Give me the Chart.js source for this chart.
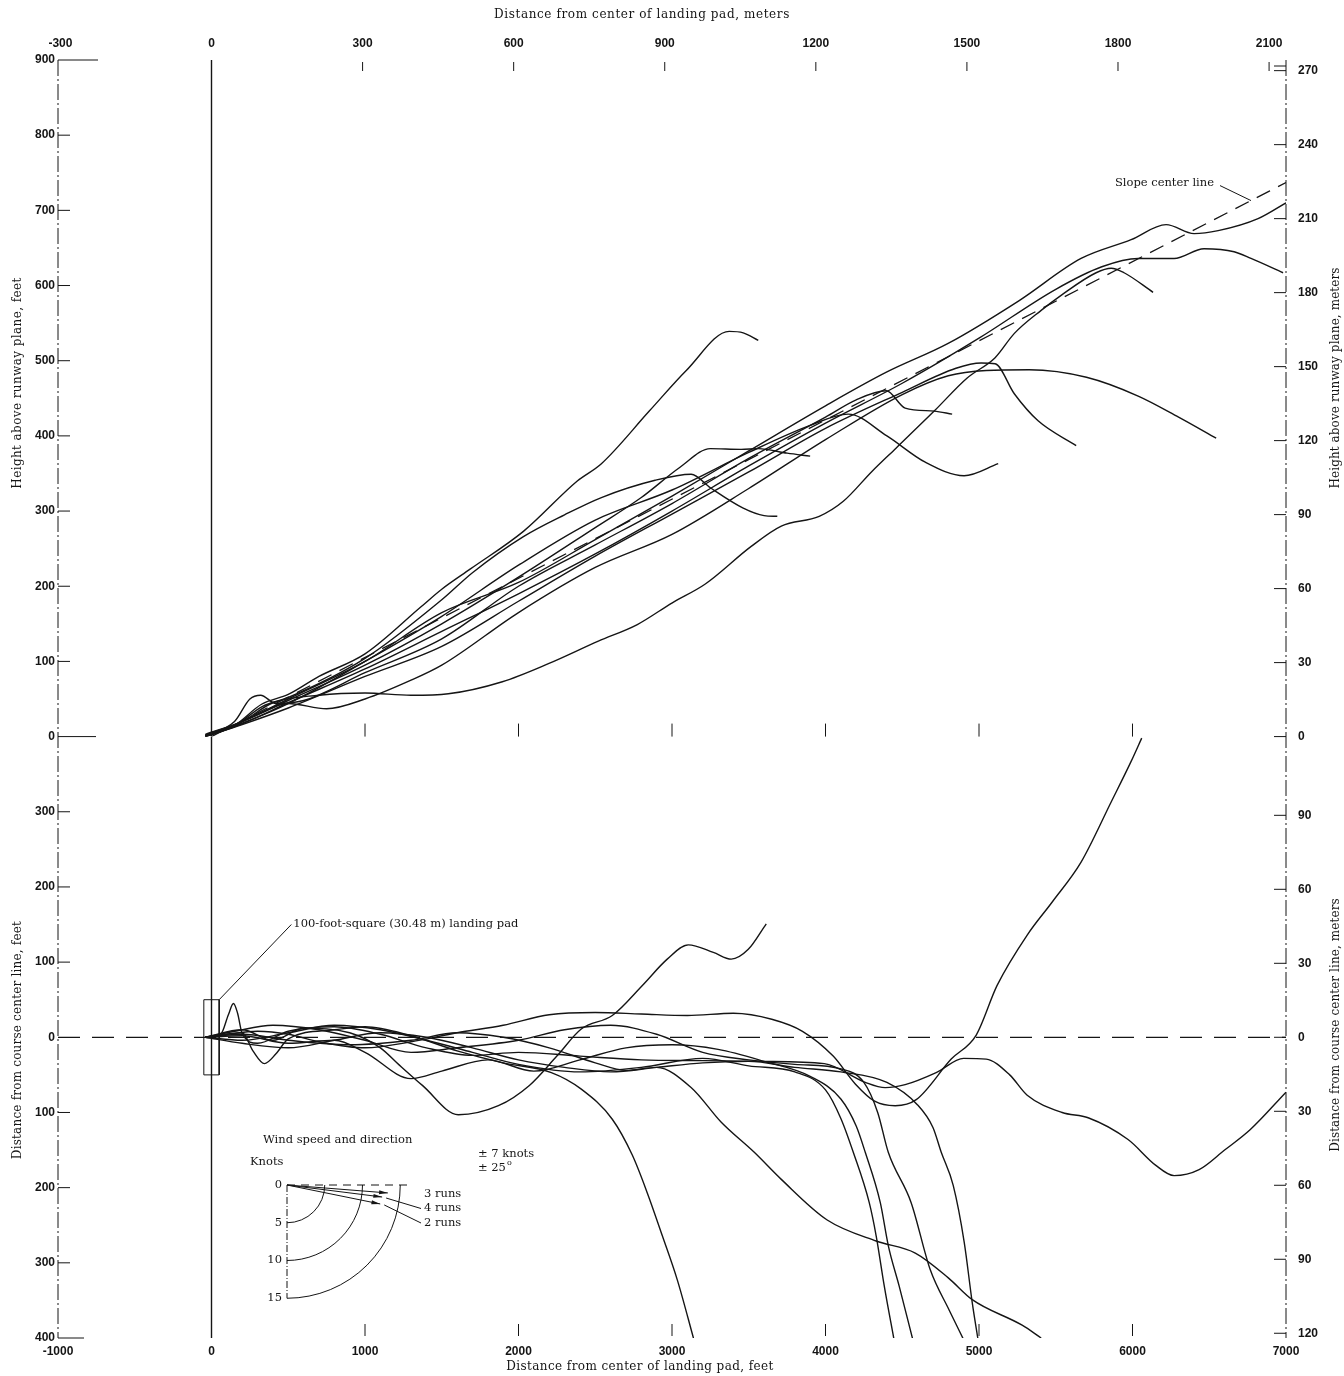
<!DOCTYPE html>
<html>
<head>
<meta charset="utf-8">
<title>Approach paths to landing pad</title>
<script src="https://cdn.jsdelivr.net/npm/chart.js@4.4.0/dist/chart.umd.min.js"></script>
<style>
  html, body { margin: 0; padding: 0; background: #fff; }
  #wrap { position: relative; width: 1344px; height: 1376px; }
</style>
</head>
<body>
<div id="wrap"><canvas id="approachChart"></canvas></div>
<script>
// ---- recorded runs: [distance from pad center ft, height above runway ft] ----
const height1 = [[-40,2],[150,15],[326,43],[500,56],[700,80],[1000,110],[1367,173],[1500,196],[1687,223],[2032,273],[2383,340],[2540,363],[2852,433],[3093,487],[3373,539],[3464,537],[3562,527]];
const height2 = [[-40,0],[150,14],[330,40],[500,52],[1000,104],[1500,182],[1700,218],[2032,266],[2300,295],[2540,318],[2890,341],[3125,349],[3250,331],[3464,304],[3600,294],[3686,293]];
const height3 = [[-40,3],[200,20],[500,48],[1000,95],[1500,150],[2000,212],[2500,278],[2800,318],[3050,358],[3250,383],[3450,382],[3562,383],[3750,377],[3900,373]];
const height4 = [[-40,1],[200,18],[500,44],[1000,100],[1500,160],[2000,228],[2500,288],[3000,328],[3500,378],[3900,414],[4148,429],[4400,400],[4650,365],[4903,347],[5125,363]];
const height5 = [[-40,0],[200,16],[500,38],[1000,80],[1500,120],[2000,180],[2500,240],[3000,296],[3500,352],[4000,410],[4500,458],[4850,490],[5014,497],[5105,496],[5230,456],[5385,420],[5633,387]];
const height6 = [[-40,0],[150,15],[300,30],[500,44],[750,37],[1000,50],[1300,75],[1500,95],[2000,165],[2500,225],[3000,269],[3500,330],[4000,395],[4500,455],[4800,480],[5047,487],[5327,488],[5700,478],[6037,453],[6300,425],[6545,397]];
const height7 = [[-40,0],[200,20],[400,45],[700,55],[1000,58],[1300,55],[1543,57],[1895,73],[2195,97],[2520,127],[2774,149],[3002,178],[3217,203],[3516,253],[3712,280],[3959,293],[4116,313],[4304,353],[4461,384],[4708,433],[4923,477],[5105,504],[5229,536],[5405,567],[5535,587],[5763,617],[5861,623],[5945,617],[6134,591]];
const height8 = [[-40,2],[200,20],[500,50],[1000,100],[1500,165],[2000,205],[2500,262],[3000,320],[3500,380],[4000,440],[4400,485],[4799,523],[5262,580],[5665,636],[5991,661],[6219,681],[6401,669],[6558,673],[6818,689],[7000,710]];
const height9 = [[-40,0],[200,17],[500,45],[1000,90],[1500,140],[2000,190],[2500,243],[3000,300],[3500,360],[4000,417],[4500,470],[5000,530],[5500,595],[5800,625],[6037,636],[6271,636],[6466,649],[6662,645],[6772,636],[6981,617]];
const height10 = [[-40,1],[150,20],[250,50],[320,55],[420,44],[600,48],[1000,85],[1500,130],[2000,200],[2500,255],[3000,310],[3500,370],[4000,425],[4200,448],[4396,460],[4519,437],[4708,433],[4825,429]];

// ---- recorded runs: [distance from pad center ft, offset from course center line ft] ----
const offset1 = [[-40,0],[100,4],[300,8],[500,4],[700,-6],[1000,-14],[1300,-6],[1600,6],[1900,16],[2200,30],[2500,33],[2800,31],[3100,29],[3400,32],[3650,24],[3850,8],[4050,-25],[4194,-62],[4320,-85],[4454,-91],[4591,-83],[4819,-29],[4982,3],[5118,69],[5314,136],[5477,180],[5665,233],[5861,313],[5991,367],[6060,398]];
const offset2 = [[-40,0],[60,4],[110,30],[143,45],[170,32],[200,5],[300,-8],[500,8],[800,14],[1100,4],[1400,-14],[1700,-24],[2000,-20],[2400,-25],[2800,-30],[3200,-31],[3600,-32],[3992,-35],[4259,-60],[4389,-67],[4519,-63],[4721,-47],[4900,-28],[5047,-29],[5200,-50],[5314,-77],[5542,-100],[5711,-107],[5971,-136],[6150,-170],[6271,-184],[6434,-176],[6600,-150],[6766,-123],[7000,-73]];
const offset3 = [[-40,0],[200,10],[400,-4],[600,12],[900,6],[1100,-14],[1224,-37],[1374,-64],[1608,-103],[1869,-91],[2071,-64],[2250,-25],[2409,11],[2611,29],[2807,69],[2969,104],[3106,123],[3269,113],[3386,104],[3497,117],[3614,151]];
const offset4 = [[-40,0],[200,6],[270,-18],[345,-35],[420,-22],[500,-2],[800,10],[1000,14],[1300,2],[1600,-18],[1900,-34],[2214,-47],[2409,-69],[2611,-109],[2742,-157],[2839,-207],[2937,-264],[3035,-323],[3145,-404]];
const offset5 = [[-40,0],[200,-4],[500,6],[800,16],[1100,10],[1400,-4],[1700,-20],[2000,-36],[2400,-46],[2800,-40],[3200,-28],[3500,-38],[3800,-46],[4000,-70],[4100,-108],[4181,-153],[4285,-220],[4330,-264],[4383,-331],[4448,-404]];
const offset6 = [[-40,0],[200,2],[500,-8],[800,-4],[1000,-20],[1300,-55],[1500,-45],[1800,-30],[2100,-45],[2400,-30],[2700,-14],[3000,-10],[3300,-16],[3600,-32],[3900,-52],[4100,-82],[4200,-118],[4259,-153],[4357,-220],[4409,-277],[4480,-331],[4571,-404]];
const offset7 = [[-40,0],[150,8],[400,16],[700,10],[1000,-4],[1300,-20],[1600,-14],[2000,-4],[2300,10],[2600,16],[2900,4],[3200,-20],[3500,-30],[3800,-36],[4100,-42],[4250,-60],[4340,-100],[4409,-153],[4558,-220],[4682,-309],[4806,-363],[4904,-404]];
const offset8 = [[-40,0],[200,-8],[500,-14],[800,-4],[1100,6],[1400,0],[1700,-14],[2000,-30],[2300,-40],[2600,-46],[2900,-40],[3200,-34],[3500,-32],[3800,-40],[4100,-46],[4400,-60],[4600,-90],[4700,-120],[4754,-153],[4832,-197],[4904,-273],[4956,-353],[4995,-404]];
const offset9 = [[-40,0],[200,4],[500,-4],[900,-10],[1300,-4],[1600,6],[1900,0],[2200,-14],[2500,-34],[2700,-44],[2900,-40],[3126,-67],[3321,-113],[3536,-153],[3712,-189],[4011,-243],[4330,-271],[4585,-287],[4800,-320],[4956,-349],[5281,-383],[5405,-400]];

// reference lines and pad
const slopeCenterLine = [[0,0],[7000,737]];
const courseCenterLine = [[-1000,0],[7000,0]];
const padCenterHeight = [[0,0],[0,900]];
const padCenterOffset = [[0,-400],[0,400]];
const padOutline = [[-50,50],[50,50],[50,-50],[-50,-50],[-50,50]];

// axis ticks
const FT_TO_M = 0.3048;
const feetTicks = [-1000,0,1000,2000,3000,4000,5000,6000,7000];
const meterTicks = [-300,0,300,600,900,1200,1500,1800,2100];
const heightFeetTicks = [0,100,200,300,400,500,600,700,800,900];
const heightMeterTicks = [0,30,60,90,120,150,180,210,240,270];
const offsetFeetTicks = [-400,-300,-200,-100,0,100,200,300];
const offsetMeterTicks = [-120,-90,-60,-30,0,30,60,90];
const markTicksFeet = [1000,2000,3000,4000,5000,6000];
const markTicksMeters = [300,600,900,1200,1500,1800,2100];

// wind inset
const windRuns = ['3 runs', '4 runs', '2 runs'];
const windSpeed = [13.4, 12.7, 12.6];   // knots
const windAngle = [4.5, 7.2, 11.5];     // degrees off the approach line
const windRings = [0, 5, 10, 15];

const heightRuns = [height1,height2,height3,height4,height5,height6,height7,height8,height9,height10];
const offsetRuns = [offset1,offset2,offset3,offset4,offset5,offset6,offset7,offset8,offset9];

const INK = '#151515';
const SERIF = '"DejaVu Serif", "Liberation Serif", serif';
const SANS = '"Liberation Sans", Arial, sans-serif';

function series(points, yAxisID, extra) {
  return Object.assign({
    data: points.map(([x, y]) => ({ x, y })),
    xAxisID: 'x', yAxisID,
    borderColor: INK, borderWidth: 1.4,
    pointRadius: 0, showLine: true, fill: false,
    tension: 0.4, cubicInterpolationMode: 'monotone'
  }, extra || {});
}

const datasets = [];
heightRuns.forEach(r => datasets.push(series(r, 'yH')));
offsetRuns.forEach(r => datasets.push(series(r, 'yL')));
datasets.push(series(slopeCenterLine, 'yH', { tension: 0, borderDash: [15, 9], borderWidth: 1.3 }));
datasets.push(series(courseCenterLine, 'yL', { tension: 0, borderDash: [22, 12], borderWidth: 1.3 }));
datasets.push(series(padCenterHeight, 'yH', { tension: 0, borderWidth: 1.4 }));
datasets.push(series(padCenterOffset, 'yL', { tension: 0, borderWidth: 1.4 }));
datasets.push(series(padOutline, 'yL', { tension: 0, borderWidth: 1, cubicInterpolationMode: 'default' }));

const fixedTicks = values => scale => { scale.ticks = values.map(value => ({ value })); };
const tickFont = { family: SANS, size: 12, weight: 'bold' };
const plainLabel = v => String(Math.round(v));
const absLabel = v => String(Math.abs(Math.round(v)));
const noGrid = { display: false, drawTicks: false };

function text(ctx, str, x, y, font, align, rotate, spacing) {
  ctx.save();
  ctx.font = font;
  ctx.textAlign = align || 'left';
  ctx.textBaseline = 'middle';
  ctx.fillStyle = INK;
  if (spacing) ctx.letterSpacing = spacing;
  if (rotate) {
    ctx.translate(x, y);
    ctx.rotate(rotate);
    ctx.fillText(str, 0, 0);
  } else {
    ctx.fillText(str, x, y);
  }
  ctx.restore();
}

function seg(ctx, x1, y1, x2, y2) {
  ctx.beginPath();
  ctx.moveTo(x1, y1);
  ctx.lineTo(x2, y2);
  ctx.stroke();
}

const paperMarks = {
  id: 'paperMarks',
  beforeDraw(chart) {
    const { ctx, width, height } = chart;
    ctx.save();
    ctx.fillStyle = '#fff';
    ctx.fillRect(0, 0, width, height);
    ctx.restore();
  },
  afterDatasetsDraw(chart) {
    const { ctx, chartArea: a, scales: s } = chart;
    const L = a.left, R = a.right;
    const y0 = s.yH.getPixelForValue(0);
    ctx.save();
    ctx.strokeStyle = INK;
    ctx.lineWidth = 1;

    // frame: dash-dot side axes, short corner marks
    ctx.setLineDash([16, 3, 2, 3]);
    seg(ctx, L, a.top, L, a.bottom);
    seg(ctx, R, a.top, R, a.bottom);
    ctx.setLineDash([]);
    seg(ctx, L, a.top, L + 40, a.top);
    seg(ctx, L, y0, L + 38, y0);
    seg(ctx, L, a.bottom, L + 26, a.bottom);
    seg(ctx, R - 12, a.top + 6, R, a.top + 6);

    // inward tick marks on the side axes
    heightFeetTicks.slice(1, -1).forEach(v => { const y = s.yH.getPixelForValue(v); seg(ctx, L, y, L + 12, y); });
    offsetFeetTicks.slice(1).forEach(v => { if (v === 0) return; const y = s.yL.getPixelForValue(v); seg(ctx, L, y, L + 12, y); });
    heightMeterTicks.forEach(v => { const y = s.ymH.getPixelForValue(v); seg(ctx, R - 12, y, R, y); });
    offsetMeterTicks.forEach(v => { const y = s.ymL.getPixelForValue(v); seg(ctx, R - 12, y, R, y); });

    // short vertical marks along the top, middle and bottom edges
    markTicksMeters.forEach(v => { const x = s.xm.getPixelForValue(v); seg(ctx, x, a.top + 2, x, a.top + 11); });
    markTicksFeet.forEach(v => { const x = s.x.getPixelForValue(v); seg(ctx, x, y0 - 13, x, y0); });
    markTicksFeet.forEach(v => { const x = s.x.getPixelForValue(v); seg(ctx, x, a.bottom - 14, x, a.bottom - 2); });

    // axis titles
    const titleFont = '12px ' + SERIF;
    text(ctx, 'Distance from center of landing pad, meters', 642, 15, titleFont, 'center', 0, '0.6px');
    text(ctx, 'Distance from center of landing pad, feet', 640, 1367, titleFont, 'center', 0, '0.4px');
    text(ctx, 'Height above runway plane, feet', 18, 383, titleFont, 'center', -Math.PI / 2, '0.4px');
    text(ctx, 'Distance from course center line, feet', 18, 1040, titleFont, 'center', -Math.PI / 2, '0.2px');
    text(ctx, 'Height above runway plane, meters', 1336, 378, titleFont, 'center', -Math.PI / 2, '0.1px');
    text(ctx, 'Distance from course center line, meters', 1336, 1025, titleFont, 'center', -Math.PI / 2, '0.1px');

    // slope center line callout
    const sx = s.x.getPixelForValue(6772), sy = s.yH.getPixelForValue(713);
    seg(ctx, sx, sy, sx - 31, sy - 15);
    text(ctx, 'Slope center line', sx - 37, sy - 18, '11.5px ' + SERIF, 'right');

    // landing pad callout
    const px = s.x.getPixelForValue(50), py = s.yL.getPixelForValue(50);
    const qx = s.x.getPixelForValue(520), qy = s.yL.getPixelForValue(150);
    seg(ctx, px, py, qx, qy);
    text(ctx, '100-foot-square (30.48 m) landing pad', qx + 2, qy - 1, '11.5px ' + SERIF, 'left');

    // wind speed and direction inset
    const ox = 287, oy = 1185, kn = 7.55;
    const small = '11.5px ' + SERIF;
    text(ctx, 'Wind speed and direction', 263, 1140, small, 'left');
    text(ctx, 'Knots', 250, 1162, small, 'left');
    text(ctx, '\u00b1 7 knots', 478, 1154, small, 'left');
    text(ctx, '\u00b1 25', 478, 1168, small, 'left');
    text(ctx, 'o', 507, 1163, '8px ' + SERIF, 'left');
    ctx.setLineDash([7, 2, 1, 2]);
    seg(ctx, ox, oy, ox, oy + 15 * kn);
    ctx.setLineDash([8, 6]);
    seg(ctx, ox, oy, ox + 16.5 * kn, oy);
    ctx.setLineDash([]);
    windRings.forEach(r => {
      text(ctx, String(r), ox - 5, oy + r * kn, small, 'right');
      if (r === 0) return;
      ctx.beginPath();
      ctx.arc(ox, oy, r * kn, 0, Math.PI / 2);
      ctx.stroke();
    });
    windRuns.forEach((name, i) => {
      const ang = windAngle[i] * Math.PI / 180;
      const tx = ox + windSpeed[i] * kn * Math.cos(ang);
      const ty = oy + windSpeed[i] * kn * Math.sin(ang);
      seg(ctx, ox, oy, tx, ty);
      ctx.beginPath();
      ctx.moveTo(tx, ty);
      ctx.lineTo(tx - 9 * Math.cos(ang - 0.22), ty - 9 * Math.sin(ang - 0.22));
      ctx.lineTo(tx - 9 * Math.cos(ang + 0.22), ty - 9 * Math.sin(ang + 0.22));
      ctx.closePath();
      ctx.fillStyle = INK;
      ctx.fill();
      const ly = 1194 + i * 14.5;
      text(ctx, name, 424, ly, small, 'left');
      if (i > 0) seg(ctx, 421, ly, tx + 4, ty + 1);
    });
    ctx.restore();
  }
};

new Chart(document.getElementById('approachChart'), {
  type: 'scatter',
  data: { datasets },
  options: {
    responsive: true,
    maintainAspectRatio: false,
    animation: false,
    events: [],
    layout: { padding: 0 },
    plugins: { legend: { display: false }, tooltip: { enabled: false } },
    scales: {
      x: {
        type: 'linear', position: 'bottom', min: -1000, max: 7000,
        afterBuildTicks: fixedTicks(feetTicks),
        afterFit: sc => { sc.height = 38; },
        grid: noGrid, border: { display: false },
        ticks: { font: tickFont, color: INK, padding: 6, maxRotation: 0, autoSkip: false, callback: plainLabel }
      },
      xm: {
        type: 'linear', position: 'top', min: -1000 * FT_TO_M, max: 7000 * FT_TO_M,
        afterBuildTicks: fixedTicks(meterTicks),
        afterFit: sc => { sc.height = 60; },
        grid: noGrid, border: { display: false },
        ticks: { font: tickFont, color: INK, padding: 9, maxRotation: 0, autoSkip: false, callback: plainLabel }
      },
      yH: {
        type: 'linear', position: 'left', stack: 'left', stackWeight: 9, weight: 1,
        min: 0, max: 900,
        afterBuildTicks: fixedTicks(heightFeetTicks),
        afterFit: sc => { sc.width = 58; },
        grid: noGrid, border: { display: false },
        ticks: { font: tickFont, color: INK, padding: 3, autoSkip: false, callback: plainLabel }
      },
      yL: {
        type: 'linear', position: 'left', stack: 'left', stackWeight: 8, weight: 0,
        min: -400, max: 400,
        afterBuildTicks: fixedTicks(offsetFeetTicks),
        afterFit: sc => { sc.width = 58; },
        grid: noGrid, border: { display: false },
        ticks: { font: tickFont, color: INK, padding: 3, autoSkip: false, callback: absLabel }
      },
      ymH: {
        type: 'linear', position: 'right', stack: 'right', stackWeight: 9, weight: 0,
        min: 0, max: 900 * FT_TO_M,
        afterBuildTicks: fixedTicks(heightMeterTicks),
        afterFit: sc => { sc.width = 58; },
        grid: noGrid, border: { display: false },
        ticks: { font: tickFont, color: INK, padding: 12, autoSkip: false, callback: plainLabel }
      },
      ymL: {
        type: 'linear', position: 'right', stack: 'right', stackWeight: 8, weight: 1,
        min: -400 * FT_TO_M, max: 400 * FT_TO_M,
        afterBuildTicks: fixedTicks(offsetMeterTicks),
        afterFit: sc => { sc.width = 58; },
        grid: noGrid, border: { display: false },
        ticks: { font: tickFont, color: INK, padding: 12, autoSkip: false, callback: absLabel }
      }
    }
  },
  plugins: [paperMarks]
});
</script>
</body>
</html>
